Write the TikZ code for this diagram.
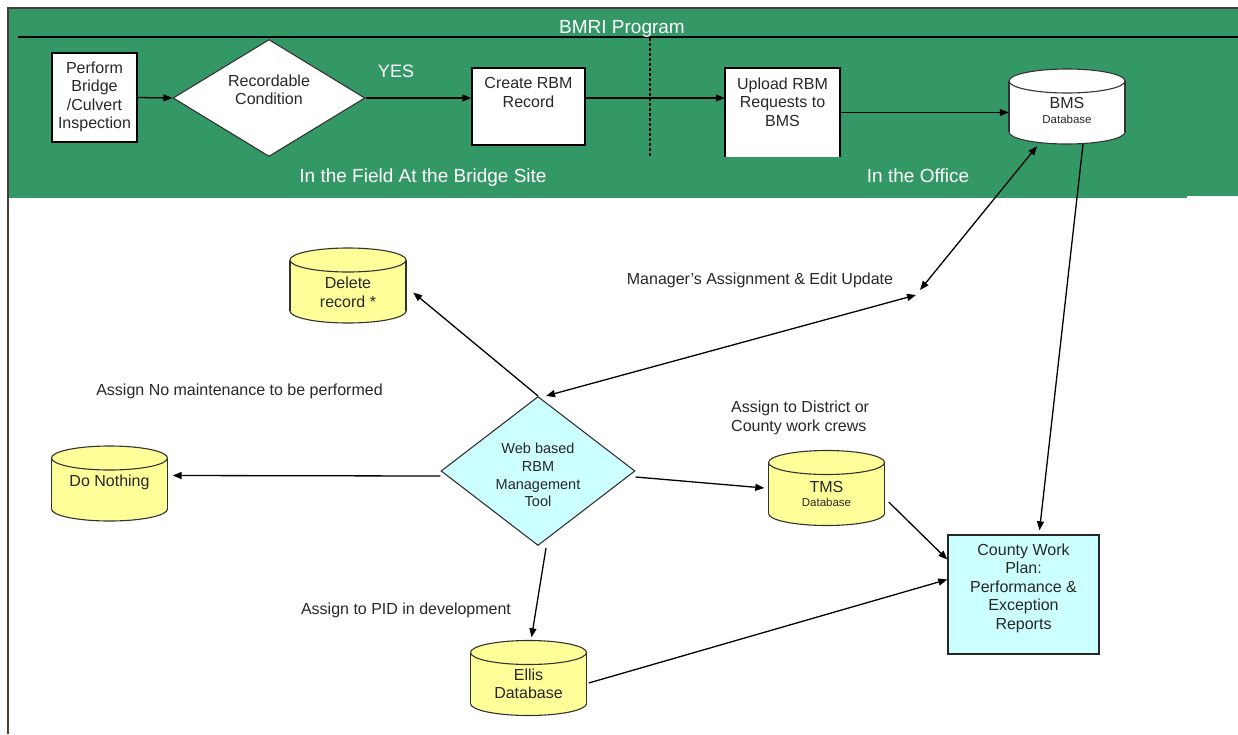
\documentclass[tikz,border=0pt]{standalone}
\usepackage{fontspec}
\setmainfont{Liberation Sans}
\usetikzlibrary{arrows.meta,shapes.geometric,calc}

\definecolor{bandgreen}{RGB}{52,152,102}
\definecolor{dbyellow}{RGB}{255,255,153}
\definecolor{toolcyan}{RGB}{204,255,255}
\definecolor{inkgray}{RGB}{40,40,40}
\definecolor{framegray}{RGB}{70,60,55}

% database drum: name, x, y (centre), fill, text, text offset
\newcommand\drum[6]{%
  \filldraw[fill=#4, dbline] (#2,#3+25.5) ellipse [x radius=58pt, y radius=12pt];
  \fill[#4] (#2-58,#3-25.5) rectangle (#2+58,#3+25.5);
  \draw[dbline] (#2-58,#3-25.5) -- (#2-58,#3+25.5) (#2+58,#3-25.5) -- (#2+58,#3+25.5);
  \filldraw[fill=#4, dbline] (#2,#3-25.5) ellipse [x radius=58pt, y radius=12pt];
  \node[dbframe] (#1) at (#2,#3) {};
  \node[txt] (#1-label) at (#2,#3+#6) {#5};
}

\begin{document}
\begin{tikzpicture}[x=1pt,y=-1pt,
  txt/.style={font=\fontsize{16}{18.5}\selectfont, align=center, inner sep=0pt, text=inkgray},
  bandtxt/.style={font=\fontsize{19}{22}\selectfont, text=white, inner sep=0pt, anchor=base},
  wbox/.style={draw=black, fill=white, line width=1.5pt, inner sep=0pt},
  openbox/.style={fill=white, inner sep=0pt},
  dbline/.style={draw=black!80, line width=1.1pt},
  dbframe/.style={rectangle, minimum width=116pt, minimum height=75pt, inner sep=0pt},
  decision/.style={diamond, draw=black!80, line width=1.1pt, inner sep=0pt},
  flow/.style={draw=black, line width=1.3pt, -{Triangle[length=9pt,width=7pt]}},
  twoway/.style={draw=black, line width=1.3pt, {Triangle[length=9pt,width=7pt]}-{Triangle[length=9pt,width=7pt]}},
  note/.style={font=\fontsize{16}{18.5}\selectfont, text=inkgray, inner sep=0pt, align=left}
]
\useasboundingbox (0,0) rectangle (1238,734);
\fill[white] (0,0) rectangle (1238,734);

% programme band
\fill[bandgreen] (9,9) rectangle (1187,198);
\fill[bandgreen] (1187,9) rectangle (1238,196);
\draw[framegray, line width=1.6pt] (8,734) -- (8,8) -- (1238,8);
\draw[black, line width=1.3pt] (18,37) -- (1238,37);
\draw[black, line width=1.1pt, dash pattern=on 3pt off 2pt] (650,38) -- (650,157);

\node[bandtxt] (title) at (622,33) {BMRI Program};
\node[bandtxt, font=\fontsize{18}{20}\selectfont] (yes) at (396,77) {YES};
\node[bandtxt] (field) at (423,182) {In the Field At the Bridge Site};
\node[bandtxt] (office) at (918,182) {In the Office};

% field steps
\node[wbox, minimum width=85pt, minimum height=89pt] (perf) at (94.5,97.5) {};
\node[txt] (perf-label) at (94.5,97) {Perform\\Bridge\\/Culvert\\Inspection};

\node[decision, fill=white, minimum width=192pt, minimum height=117pt] (dec) at (269,98) {};
\node[txt] (dec-label) at (269,90) {Recordable\\Condition};

\node[wbox, minimum width=113pt, minimum height=77pt] (create) at (528.5,106.5) {};
\node[txt] (create-label) at (528.5,92.5) {Create RBM\\Record};

% office steps
\node[openbox, minimum width=115pt, minimum height=89pt] (up) at (782.5,112.5) {};
\draw[black, line width=1.5pt] (up.south west) -- (up.north west) -- (up.north east) -- (up.south east);
\node[txt] (up-label) at (782.5,102) {Upload RBM\\Requests to\\BMS};

\drum{bms}{1067}{106.5}{white}{BMS\\[-3pt]{\fontsize{11.5}{13}\selectfont Database}}{4}

% lower part
\drum{del}{348}{285.5}{dbyellow}{Delete\\record *}{7}
\drum{nothing}{109.5}{483.5}{dbyellow}{Do Nothing}{-1}
\drum{tms}{826.5}{488}{dbyellow}{TMS\\[-4pt]{\fontsize{11.5}{13}\selectfont Database}}{6}
\drum{ellis}{528.5}{678}{dbyellow}{Ellis\\Database}{6}

\node[decision, fill=toolcyan, minimum width=194pt, minimum height=149pt] (web) at (538,471) {};
\node[txt, font=\fontsize{14.5}{17.7}\selectfont] (web-label) at (538,475) {Web based\\RBM\\Management\\Tool};

\node[draw=black!85, fill=toolcyan, line width=1.4pt, minimum width=151pt, minimum height=119pt, inner sep=0pt] (county) at (1023.5,594.5) {};
\node[txt] (county-label) at (1023.5,588) {County Work\\Plan:\\Performance \&\\Exception\\Reports};

% labels
\node[note] (mgr-note) at (760,280) {Manager's Assignment \& Edit Update};
\node[note] (none-note) at (239.5,391) {Assign No maintenance to be performed};
\node[note, anchor=west] (crew-note) at (731,418) {Assign to District or\\County work crews};
\node[note] (pid-note) at (406,610) {Assign to PID in development};

% junction of the manager's update links
\coordinate (mgrA) at (920,290);
\coordinate (mgrB) at (916,295);

% connectors
\draw[flow] (perf.east) -- (dec.west);
\draw[flow] (dec.east) -- (dec.east -| create.west);
\draw[flow] (create.east |- dec.east) -- (up.west |- dec.east);
\draw[flow] (up.east) -- (up.east -| bms.west);
\draw[twoway] (mgrA) -- ($(bms.south)+(-30,2)$);
\draw[twoway] ($(web.north)+(8,0)$) -- (mgrB);
\draw[flow] ($(bms.south)+(16,0)$) -- ($(county.north)+(16,-4)$);
\draw[flow] (web.north) -- ($(del.east)+(7,7)$);
\draw[flow] ($(web.west)+(0,5)$) -- ($(nothing.east)+(5,-8)$);
\draw[flow] ($(web.east)+(0,6)$) -- ($(tms.west)+(-4,0)$);
\draw[flow] ($(web.south)+(8,2)$) -- ($(ellis.north)+(3,-3)$);
\draw[flow] ($(tms.east)+(4,14)$) -- ($(county.west)+(0,-35)$);
\draw[flow] ($(ellis.east)+(2,5)$) -- ($(county.west)+(0,-15)$);
\end{tikzpicture}
\end{document}
